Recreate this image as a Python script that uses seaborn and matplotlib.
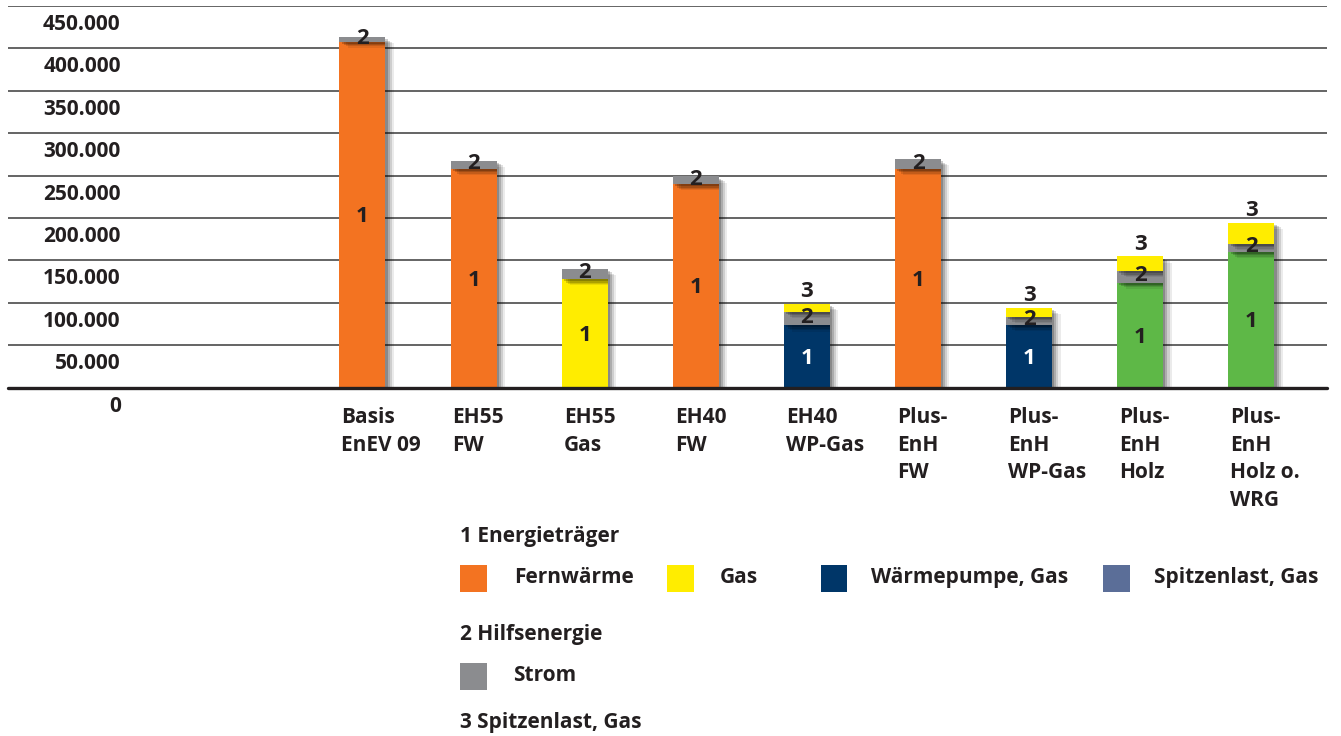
import numpy as np
import pandas as pd
import matplotlib
matplotlib.use("Agg")
import matplotlib.pyplot as plt
import seaborn as sns
from matplotlib import patheffects as pe
from matplotlib.patches import Rectangle

# ---------------- data ----------------
categories = ["Basis\nEnEV 09", "EH55\nFW", "EH55\nGas", "EH40\nFW", "EH40\nWP-Gas",
              "Plus-\nEnH\nFW", "Plus-\nEnH\nWP-Gas", "Plus-\nEnH\nHolz", "Plus-\nEnH\nHolz o.\nWRG"]
energietraeger = [408000, 258000, 128000, 240000, 73600, 258000, 74000, 124000, 160000]
hilfsenergie = [5200, 9800, 12200, 9000, 15700, 11400, 9500, 13500, 9800]
spitzenlast = [0, 0, 0, 0, 9400, 0, 10600, 17200, 24800]
traeger_type = ["Fernwärme", "Fernwärme", "Gas", "Fernwärme", "Wärmepumpe, Gas",
                "Fernwärme", "Wärmepumpe, Gas", "Holz", "Holz"]
yticks = [0, 50000, 100000, 150000, 200000, 250000, 300000, 350000, 400000, 450000]
ytick_labels = ["0", "50.000", "100.000", "150.000", "200.000", "250.000",
                "300.000", "350.000", "400.000", "450.000"]
legend_1_title = "1 Energieträger"
legend_1_items = ["Fernwärme", "Gas", "Wärmepumpe, Gas", "Spitzenlast, Gas"]
legend_2_title = "2 Hilfsenergie"
legend_2_items = ["Strom"]
legend_3_title = "3 Spitzenlast, Gas"

colors = {
    "Fernwärme": "#F37321",
    "Gas": "#FFED00",
    "Wärmepumpe, Gas": "#003668",
    "Spitzenlast, Gas": "#5B6E98",
    "Holz": "#5EB847",
    "Strom": "#8B8C8F",
}
TXT = "#231F20"

# ---------------- figure ----------------
sns.set_theme(style="white")
plt.rcParams["font.family"] = ["Open Sans", "DejaVu Sans"]
plt.rcParams["font.weight"] = "bold"

W, H = 1341, 736
fig = plt.figure(figsize=(W / 100, H / 100), dpi=100)
ax_left, ax_right, ax_top, ax_bottom = 8, 1327, 6, 387.7
ax = fig.add_axes([ax_left / W, 1 - ax_bottom / H, (ax_right - ax_left) / W, (ax_bottom - ax_top) / H])

df = pd.DataFrame({"Variante": categories, "e": energietraeger, "h": hilfsenergie, "s": spitzenlast})
base1 = np.array(energietraeger, dtype=float)
base2 = base1 + np.array(hilfsenergie, dtype=float)
bw = 0.414

sns.barplot(data=df, x="Variante", y="e", color=colors["Fernwärme"], width=bw, errorbar=None,
            saturation=1, linewidth=0, ax=ax, zorder=3)
main_patches = list(ax.patches)
for p, t in zip(main_patches, traeger_type):
    p.set_facecolor(colors[t])
sns.barplot(data=df, x="Variante", y="h", bottom=base1, color=colors["Strom"], width=bw, errorbar=None,
            saturation=1, linewidth=0, ax=ax, zorder=3)
sns.barplot(data=df, x="Variante", y="s", bottom=base2, color=colors["Gas"], width=bw, errorbar=None,
            saturation=1, linewidth=0, ax=ax, zorder=3)

shadow = [
    pe.SimplePatchShadow(offset=(6, -4.5), shadow_rgbFace="black", alpha=0.08),
    pe.SimplePatchShadow(offset=(4.5, -3.5), shadow_rgbFace="black", alpha=0.12),
    pe.SimplePatchShadow(offset=(3, -2.5), shadow_rgbFace="black", alpha=0.16),
    pe.SimplePatchShadow(offset=(1.5, -1.5), shadow_rgbFace="black", alpha=0.2),
    pe.Normal(),
]
for p in ax.patches:
    p.set_path_effects(shadow)

ax.set_xlim(-3.19, 8.68)
ax.set_ylim(0, 450000)
ax.set_yticks(yticks)
ax.tick_params(length=0, labelleft=False, labelbottom=False)
ax.set_xlabel("")
ax.set_ylabel("")
for s in ax.spines.values():
    s.set_visible(False)
ax.grid(axis="y", color="#3a3a3a", lw=1.1, zorder=0)
ax.grid(axis="x", visible=False)
ax.set_axisbelow(True)
ax.axhline(0, color=TXT, lw=2.4, zorder=5, clip_on=False)

px = 0.72  # px -> points at 100 dpi
FS = 15

# y tick labels (inside, below each grid line)
for v, lab in zip(yticks, ytick_labels):
    ax.annotate(lab, xy=(0, v), xycoords=("axes fraction", "data"),
                xytext=((120.7 - ax_left) * px, -24 * px), textcoords="offset points",
                ha="right", va="baseline", fontsize=FS, fontweight="bold", color=TXT)

# category labels
xpos = np.arange(len(categories))
for x, lab in zip(xpos, categories):
    ax.annotate(lab, xy=(x - bw / 2, 0), xycoords="data",
                xytext=(2 * px, -19.6 * px), textcoords="offset points",
                ha="left", va="top", fontsize=FS, fontweight="bold", color=TXT,
                linespacing=1.40, annotation_clip=False)

# segment labels
for x, e, h, s, t in zip(xpos, energietraeger, hilfsenergie, spitzenlast, traeger_type):
    c1 = "white" if t == "Wärmepumpe, Gas" else TXT
    ax.annotate("1", xy=(x, e / 2), xytext=(0, -7.5 * px), textcoords="offset points",
                ha="center", va="baseline", fontsize=FS + 1, fontweight="bold", color=c1, zorder=6)
    ax.annotate("2", xy=(x, e + h / 2), xytext=(0, -4.5 * px), textcoords="offset points",
                ha="center", va="baseline", fontsize=FS + 1, fontweight="bold", color=TXT, zorder=6)
    if s > 0:
        ax.annotate("3", xy=(x, e + h + s), xytext=(0, 6.5 * px), textcoords="offset points",
                    ha="center", va="baseline", fontsize=FS + 1, fontweight="bold", color=TXT, zorder=6)

# ---------------- legend (manual layout) ----------------
def ftext(x, y, s):
    fig.text(x / W, 1 - y / H, s, ha="left", va="baseline", fontsize=FS, fontweight="bold", color=TXT)

def fsquare(x, ytop, c, size=26.7):
    fig.add_artist(Rectangle((x / W, 1 - (ytop + size) / H), size / W, size / H,
                             transform=fig.transFigure, facecolor=c, edgecolor="none"))

ftext(460, 541.7, legend_1_title)
sq_x = [460, 667.3, 820.7, 1103.3]
tx_x = [514.3, 719.3, 870.7, 1154]
for item, sx, tx in zip(legend_1_items, sq_x, tx_x):
    fsquare(sx, 565, colors[item])
    ftext(tx, 583.3, item)
ftext(460, 640, legend_2_title)
for item in legend_2_items:
    fsquare(460, 663.3, colors[item])
    ftext(513.3, 680.7, item)
ftext(460, 728.3, legend_3_title)

fig.savefig("out.png", dpi=100, facecolor="white")
